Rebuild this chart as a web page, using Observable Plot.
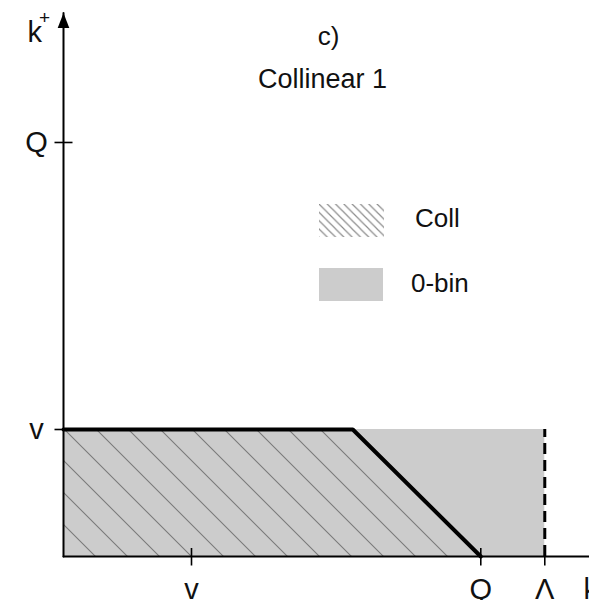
<!DOCTYPE html>
<html><head><meta charset="utf-8">
<script src="https://cdn.jsdelivr.net/npm/d3@7"></script>
<script src="https://cdn.jsdelivr.net/npm/@observablehq/plot@0.6"></script>
<style>
body{margin:0;background:#fff;font-family:"Liberation Sans",Arial,Helvetica,sans-serif;}
#wrap{position:relative;width:589px;height:600px;overflow:hidden;}
.leg{position:absolute;font-size:26px;line-height:26px;color:#111;white-space:nowrap;}
.sw{position:absolute;}
</style></head><body>
<div id="wrap"></div>
<script>
// ---- data ----
const v = 1, Q = 3.26, Lambda = 3.76;
const xTicks = [v, Q, Lambda];
const xTickLabels = ["v", "Q", "Λ"];
const yTicks = [v, Q];
const yTickLabels = ["v", "Q"];
const zeroBinRegion = [{x1: 0, x2: Lambda, y1: 0, y2: v}];
const collBoundary = [{x: 0, y: v}, {x: Q - v, y: v}, {x: Q, y: 0}];
const axisTopY = 4.28, axisEndX = 4.4;
const legendLabels = ["Coll", "0-bin"];
const titleLines = ["c)", "Collinear 1"];
const axisNames = ["k", "+", "k"];

// ---- symbols ----
const hTick = {draw(c){ c.moveTo(-9,0); c.lineTo(9,0); }};
const vTick = {draw(c){ c.moveTo(0,-8.5); c.lineTo(0,9); }};
const arrowUp = {draw(c){ c.moveTo(0,0); c.lineTo(5.8,15); c.lineTo(-5.8,15); c.closePath(); }};

const chart = Plot.plot({
  width: 589, height: 600,
  marginLeft: 63, marginRight: 14, marginTop: 0, marginBottom: 44,
  x: {domain: [0, 4], axis: null},
  y: {domain: [0, 4.378], axis: null},
  style: {fontFamily: '"Liberation Sans", Arial, Helvetica, sans-serif', color: "#000", background: "transparent", overflow: "visible"},
  marks: [
    Plot.rect(zeroBinRegion, {x1: "x1", x2: "x2", y1: "y1", y2: "y2", fill: "#cccccc"}),
    Plot.areaY(collBoundary, {x: "x", y: "y", fill: "url(#hatchMain)"}),
    Plot.ruleX([Lambda], {y1: 0, y2: v, stroke: "#000", strokeWidth: 3, strokeDasharray: "11,6"}),
    Plot.line(collBoundary, {x: "x", y: "y", stroke: "#000", strokeWidth: 4}),
    Plot.line([{x: 0, y: 0}, {x: axisEndX, y: 0}], {x: "x", y: "y", stroke: "#000", strokeWidth: 2}),
    Plot.line([{x: 0, y: 0}, {x: 0, y: axisTopY}], {x: "x", y: "y", stroke: "#000", strokeWidth: 2}),
    Plot.dot([axisTopY], {x: 0, y: d => d, symbol: arrowUp, fill: "#000", stroke: "none"}),
    Plot.dot(yTicks, {x: 0, y: d => d, symbol: hTick, fill: "none", stroke: "#000", strokeWidth: 1.6}),
    Plot.dot(xTicks, {x: d => d, y: 0, symbol: vTick, fill: "none", stroke: "#000", strokeWidth: 1.6}),
    Plot.text(xTicks, {x: d => d, y: 0, text: (d, i) => xTickLabels[i], lineAnchor: "top", dy: 21.5, fontSize: 29, fill: "#111"}),
    Plot.text(yTicks, {x: 0, y: d => d, text: (d, i) => yTickLabels[i], dx: -27, textAnchor: "middle", fontSize: 29, fill: "#111"}),
    Plot.text([axisNames[0]], {frameAnchor: "top-left", text: d => d, textAnchor: "start", lineAnchor: "top", dx: -36, dy: 21.4, fontSize: 29, fill: "#111"}),
    Plot.text([axisNames[1]], {frameAnchor: "top-left", text: d => d, textAnchor: "middle", lineAnchor: "middle", dx: -19, dy: 17.5, fontSize: 19, fill: "#111"}),
    Plot.text([axisNames[2]], {frameAnchor: "bottom-right", text: d => d, textAnchor: "start", lineAnchor: "top", dx: 8, dy: 21.5, fontSize: 29, fill: "#111"}),
    Plot.text([titleLines[0]], {frameAnchor: "top", text: d => d, textAnchor: "middle", lineAnchor: "top", dx: 9, dy: 26.5, fontSize: 26, fill: "#111"}),
    Plot.text([titleLines[1]], {frameAnchor: "top", text: d => d, textAnchor: "middle", lineAnchor: "top", dx: 3, dy: 68, fontSize: 27, fill: "#111"})
  ]
});

chart.insertAdjacentHTML("afterbegin",
  '<defs><pattern id="hatchMain" patternUnits="userSpaceOnUse" width="32" height="32" patternTransform="translate(19,0)">' +
  '<path d="M-16,-16L48,48M-16,16L16,48M16,-16L48,16" stroke="#7a7a7a" stroke-width="1.1" fill="none"/></pattern></defs>');

const wrap = document.getElementById("wrap");
wrap.appendChild(chart);

// legend
const sw1 = document.createElement("div");
sw1.className = "sw";
sw1.style.cssText = "left:319px;top:204px;width:65px;height:33px;";
sw1.innerHTML = '<svg width="65" height="33"><defs><pattern id="hatchLeg" patternUnits="userSpaceOnUse" width="8.3" height="8.3">' +
  '<path d="M-4.15,-4.15L12.45,12.45M-4.15,4.15L4.15,12.45M4.15,-4.15L12.45,4.15" stroke="#8a8a8a" stroke-width="1.2" fill="none"/></pattern></defs>' +
  '<rect width="65" height="33" fill="url(#hatchLeg)"/></svg>';
wrap.appendChild(sw1);
const sw2 = document.createElement("div");
sw2.className = "sw";
sw2.style.cssText = "left:319px;top:268px;width:64px;height:33px;background:#cccccc;";
wrap.appendChild(sw2);
const l1 = document.createElement("div");
l1.className = "leg"; l1.style.cssText = "left:415px;top:205px;"; l1.textContent = legendLabels[0];
wrap.appendChild(l1);
const l2 = document.createElement("div");
l2.className = "leg"; l2.style.cssText = "left:411px;top:270px;"; l2.textContent = legendLabels[1];
wrap.appendChild(l2);
</script>
</body></html>
